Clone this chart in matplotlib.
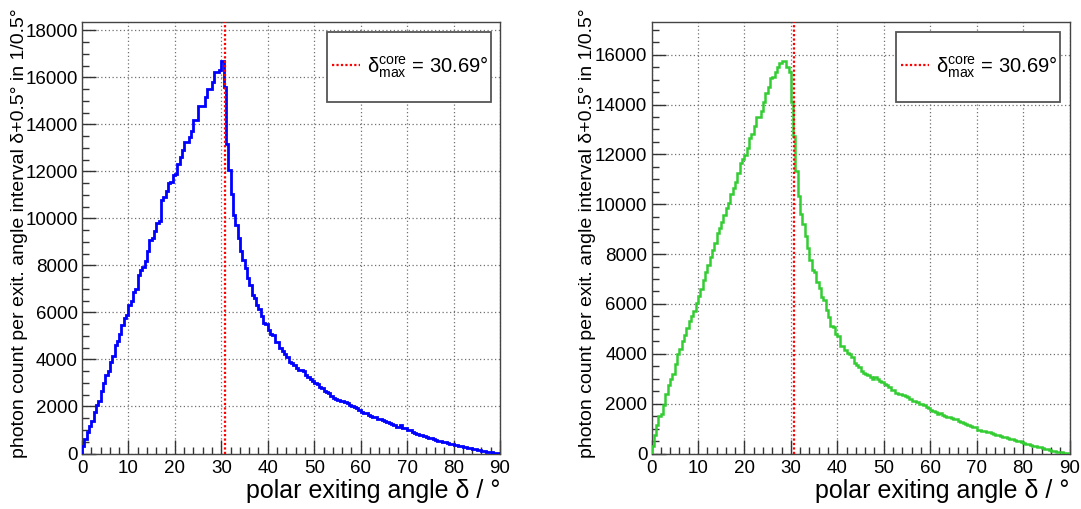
import numpy as np
import matplotlib
matplotlib.use('Agg')
import matplotlib.pyplot as plt
import matplotlib.ticker as tck
from matplotlib.lines import Line2D
from matplotlib.patches import Rectangle

plt.rcParams['font.family'] = ['Liberation Sans', 'DejaVu Sans']
plt.rcParams['mathtext.fontset'] = 'custom'
plt.rcParams['mathtext.rm'] = 'Liberation Sans'
plt.rcParams['mathtext.it'] = 'Liberation Sans:italic'

# bin edges: 0.5 degree bins from 0 to 90
BIN_EDGES = np.arange(0, 90.5, 0.5)
DELTA_MAX = 30.69

# photon counts per 0.5 deg bin, left panel (blue)
COUNTS_BLUE = [
    300, 600, 900, 1150, 1400, 1750, 2050, 2250, 2650, 3000,
    3350, 3500, 3900, 4150, 4600, 4800, 5100, 5450, 5750, 5900,
    6300, 6500, 6850, 7000, 7600, 7800, 7950, 8200, 8600, 9100,
    9150, 9450, 9800, 9900, 10800, 10900, 11150, 11500, 11550, 11850,
    11900, 12300, 12600, 12900, 13250, 13250, 13450, 13700, 14200, 14200,
    14800, 14800, 14800, 15150, 15500, 15500, 15800, 16250, 16250, 16300,
    16700, 15600, 13150, 12050, 11050, 10150, 9700, 9150, 8600, 8250,
    7900, 7450, 7150, 6750, 6600, 6300, 6150, 5850, 5550, 5500,
    5250, 5100, 5050, 4750, 4750, 4500, 4350, 4250, 4100, 3900,
    3850, 3750, 3650, 3550, 3550, 3500, 3350, 3250, 3150, 3100,
    3000, 2950, 2850, 2800, 2650, 2600, 2560, 2450, 2350, 2300,
    2280, 2250, 2250, 2200, 2140, 2080, 2030, 1960, 1920, 1830,
    1780, 1740, 1710, 1640, 1600, 1570, 1540, 1480, 1460, 1420,
    1400, 1340, 1310, 1250, 1220, 1140, 1120, 1200, 1090, 1070,
    1010, 980, 920, 880, 840, 800, 770, 730, 700, 670,
    640, 610, 580, 550, 520, 500, 470, 450, 420, 400,
    380, 350, 330, 300, 280, 260, 240, 220, 200, 180,
    160, 140, 120, 100, 80, 60, 45, 30, 15, 5,
]

# photon counts per 0.5 deg bin, right panel (green)
COUNTS_GREEN = [
    300, 750, 1150, 1500, 1600, 1950, 2400, 2750, 3000, 3200,
    3600, 4000, 4200, 4500, 4750, 5050, 5300, 5500, 5700, 6050,
    6300, 6600, 6950, 7300, 7550, 7900, 8150, 8450, 8840, 9040,
    9270, 9550, 9840, 10040, 10415, 10640, 10910, 11270, 11640, 11800,
    11975, 12240, 12640, 12800, 13130, 13500, 13520, 13750, 14110, 14470,
    14700, 15050, 15100, 15300, 15500, 15650, 15750, 15750, 15500, 15300,
    14100, 12750, 11350, 10350, 9625, 9200, 8715, 8250, 7750, 7350,
    7300, 6880, 6650, 6280, 6150, 5750, 5480, 5100, 5080, 4810,
    4700, 4310, 4300, 4140, 4030, 4000, 3870, 3630, 3540, 3470,
    3310, 3230, 3200, 3140, 3070, 3000, 3050, 3000, 2900, 2850,
    2800, 2735, 2670, 2560, 2540, 2420, 2400, 2400, 2350, 2300,
    2280, 2200, 2120, 2100, 2050, 2000, 1980, 1950, 1850, 1820,
    1750, 1700, 1680, 1600, 1620, 1560, 1500, 1480, 1460, 1420,
    1400, 1370, 1300, 1260, 1240, 1200, 1150, 1100, 1080, 1050,
    950, 930, 920, 900, 880, 850, 820, 780, 760, 730,
    700, 680, 660, 630, 600, 580, 560, 520, 490, 470,
    420, 400, 370, 330, 300, 290, 270, 250, 220, 200,
    180, 150, 120, 100, 80, 60, 45, 30, 15, 5,
]

X_LABEL = 'polar exiting angle δ / °'
Y_LABEL = 'photon count per exit. angle interval δ+0.5° in 1/0.5°'
LEGEND_LABEL = r'δ$^{\mathrm{core}}_{\mathrm{max}}$ = 30.69°'

W, H = 1081, 509
fig = plt.figure(figsize=(W / 100, H / 100), dpi=100)


def draw_panel(x0, counts, color, lw, ylab_x):
    bottom = (H - 453.5) / H
    height = (453.5 - 21.7) / H
    ax = fig.add_axes([x0 / W, bottom, 418 / W, height])
    ax.stairs(counts, BIN_EDGES, color=color, linewidth=lw, zorder=3)
    ax.axvline(DELTA_MAX, color='red', linestyle=(0, (1, 1)), linewidth=1.6, zorder=4)

    ax.set_xlim(0, 90)
    ax.set_ylim(0, 1.1 * max(counts))
    ax.xaxis.set_major_locator(tck.MultipleLocator(10))
    ax.xaxis.set_minor_locator(tck.MultipleLocator(2))
    ax.yaxis.set_major_locator(tck.MultipleLocator(2000))
    ax.yaxis.set_minor_locator(tck.MultipleLocator(500))
    ax.grid(True, which='major', color='#707070', linestyle=(0, (1, 2)), linewidth=0.9)
    ax.set_axisbelow(True)

    ax.tick_params(which='both', direction='in', top=False, right=False,
                   labelsize=13.5, color='#333333')
    ax.tick_params(which='major', length=10, width=1)
    ax.tick_params(which='minor', length=5, width=1)
    ax.tick_params(axis='y', pad=3)
    ax.tick_params(axis='x', pad=5)
    for sp in ax.spines.values():
        sp.set_color('#444444')
        sp.set_linewidth(1.0)

    ax.set_xlabel(X_LABEL, fontsize=18, loc='right', labelpad=1)
    fig.text(ylab_x / W, 1 - 8 / H, Y_LABEL, rotation=90, ha='center', va='top',
             fontsize=14)

    # legend box drawn by hand, entry placed inside it
    ax.add_patch(Rectangle((0.586, 0.814), 0.392, 0.162, transform=ax.transAxes,
                           facecolor='white', edgecolor='#555555', linewidth=1.3,
                           zorder=5))
    handle = Line2D([], [], color='red', linestyle=(0, (1, 1)), linewidth=1.6)
    leg = ax.legend([handle], [LEGEND_LABEL], loc='center left',
                    bbox_to_anchor=(0.597, 0.895), frameon=False, borderpad=0,
                    borderaxespad=0, fontsize=14.5, handlelength=1.4,
                    handletextpad=0.35)
    leg.set_zorder(6)
    return ax


draw_panel(82, COUNTS_BLUE, '#0000ff', 2.0, 20)
draw_panel(651.5, COUNTS_GREEN, '#33cc33', 1.8, 588)

fig.savefig('out.png', dpi=100)
